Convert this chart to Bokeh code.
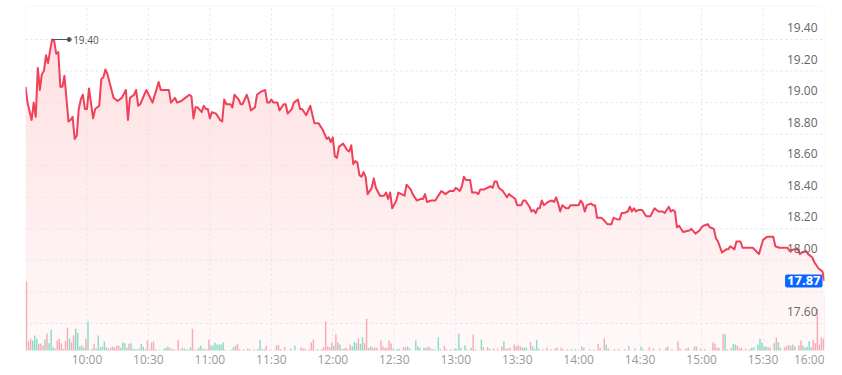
import numpy as np
from bokeh.plotting import figure
from bokeh.models import Range1d, BoxAnnotation, ColumnDataSource
from bokeh.core.properties import value
from bokeh.embed import file_html
from bokeh.resources import INLINE

# ---------------- data ----------------
# minutes since the 09:30 open
t_min = [0, 1, 3, 4, 5, 6, 7, 8, 9, 10, 11, 12, 13, 14, 15, 16, 17, 18, 19, 21, 22, 23, 24, 25, 26, 27, 28, 29, 30, 31,
         33, 34, 36, 37, 38, 39, 40, 43, 45, 47, 49, 50, 51, 53, 54, 55, 56, 59, 62, 65, 66, 70, 71, 73, 74, 76, 78, 80, 81, 82,
         83, 84, 86, 87, 88, 89, 90, 91, 93, 95, 96, 97, 98, 100, 101, 102, 104, 105, 106, 108, 109, 110, 112, 113, 115, 117, 118, 119, 120, 121,
         123, 124, 126, 127, 128, 130, 131, 133, 134, 135, 137, 139, 141, 143, 145, 147, 148, 149, 150, 151, 152, 153, 155, 157, 158, 159, 160, 161, 162, 163,
         164, 165, 166, 167, 169, 170, 171, 173, 175, 176, 177, 178, 179, 181, 182, 185, 186, 188, 189, 191, 193, 194, 195, 196, 198, 200, 202, 203, 205, 207,
         209, 210, 212, 213, 214, 215, 217, 218, 220, 221, 222, 224, 227, 228, 229, 230, 231, 233, 235, 236, 237, 238, 239, 240, 242, 243, 244, 246, 247, 248,
         249, 250, 251, 252, 253, 255, 257, 258, 259, 260, 261, 262, 264, 265, 266, 268, 270, 271, 272, 273, 274, 276, 277, 278, 279, 281, 282, 284, 285, 286,
         287, 289, 290, 291, 292, 294, 295, 296, 297, 298, 299, 300, 301, 303, 305, 307, 309, 311, 312, 314, 315, 316, 317, 318, 319, 321, 324, 325, 327, 329,
         330, 331, 333, 334, 336, 337, 338, 340, 342, 343, 344, 346, 347, 349, 350, 352, 355, 358, 360, 362, 363, 365, 366, 368, 369, 371, 372, 373, 375, 377,
         378, 379, 381, 382, 384, 385, 387, 388, 389, 390]
prices = [19.10, 19.00, 18.89, 19.00, 18.91, 19.22, 19.08, 19.18, 19.20, 19.30, 19.25, 19.33, 19.40, 19.39, 19.31, 19.32, 19.10, 19.10, 19.17, 18.88, 18.89, 18.91, 18.77, 18.79, 18.96, 19.02, 19.05, 18.96, 18.96, 19.09,
          18.90, 18.96, 18.98, 19.15, 19.16, 19.21, 19.18, 19.03, 19.01, 19.03, 19.08, 18.89, 19.03, 19.05, 19.08, 18.98, 18.99, 19.08, 19.00, 19.13, 19.08, 19.08, 19.00, 19.03, 19.00, 19.01, 19.03, 19.05, 19.04, 18.90,
          18.97, 18.97, 18.94, 18.98, 18.96, 18.96, 18.90, 18.94, 18.93, 18.89, 18.88, 19.02, 18.99, 18.99, 18.97, 19.05, 19.02, 18.99, 18.99, 19.05, 19.01, 18.95, 18.97, 19.05, 19.07, 19.08, 19.00, 19.00, 19.02, 19.00,
          19.00, 18.95, 18.99, 18.99, 18.93, 18.96, 19.00, 19.02, 18.96, 18.96, 18.92, 18.98, 18.87, 18.87, 18.83, 18.77, 18.78, 18.75, 18.78, 18.66, 18.65, 18.72, 18.74, 18.70, 18.69, 18.73, 18.61, 18.63, 18.62, 18.54,
          18.53, 18.56, 18.53, 18.42, 18.46, 18.52, 18.46, 18.41, 18.41, 18.43, 18.39, 18.43, 18.33, 18.38, 18.43, 18.41, 18.48, 18.45, 18.42, 18.38, 18.39, 18.39, 18.42, 18.37, 18.38, 18.38, 18.42, 18.44, 18.42, 18.44,
          18.44, 18.46, 18.44, 18.47, 18.53, 18.51, 18.51, 18.43, 18.43, 18.42, 18.45, 18.45, 18.47, 18.46, 18.50, 18.50, 18.46, 18.44, 18.40, 18.42, 18.41, 18.40, 18.39, 18.35, 18.35, 18.38, 18.38, 18.34, 18.31, 18.32,
          18.30, 18.33, 18.33, 18.38, 18.35, 18.37, 18.38, 18.37, 18.40, 18.36, 18.31, 18.35, 18.33, 18.33, 18.35, 18.35, 18.35, 18.38, 18.36, 18.31, 18.35, 18.36, 18.35, 18.35, 18.27, 18.27, 18.26, 18.23, 18.23, 18.23,
          18.27, 18.26, 18.26, 18.30, 18.30, 18.31, 18.34, 18.31, 18.33, 18.31, 18.32, 18.32, 18.32, 18.28, 18.28, 18.33, 18.31, 18.31, 18.30, 18.34, 18.31, 18.32, 18.31, 18.21, 18.22, 18.18, 18.19, 18.20, 18.17, 18.19,
          18.21, 18.22, 18.23, 18.21, 18.20, 18.14, 18.12, 18.05, 18.07, 18.07, 18.09, 18.07, 18.12, 18.12, 18.08, 18.08, 18.08, 18.04, 18.13, 18.15, 18.15, 18.15, 18.09, 18.08, 18.08, 18.08, 18.08, 18.06, 18.07, 18.07,
          18.04, 18.05, 18.06, 18.04, 18.02, 17.99, 17.95, 17.94, 17.93, 17.87]
last_price = 17.87

# per-minute volume (thousand shares) and direction (1 = up minute, 0 = down minute)
vol_min = [0, 1, 2, 3, 4, 5, 6, 7, 8, 9, 10, 11, 12, 13, 14, 15, 16, 17, 18, 19, 20, 21, 22, 23, 24, 25, 26, 27, 28, 29,
           30, 32, 33, 34, 35, 36, 37, 38, 39, 40, 41, 42, 43, 44, 45, 46, 47, 48, 49, 50, 51, 52, 53, 54, 55, 56, 57, 58, 59, 60,
           61, 62, 63, 65, 67, 68, 69, 70, 71, 72, 74, 75, 76, 77, 78, 79, 80, 81, 82, 83, 84, 85, 86, 87, 88, 89, 90, 91, 92, 93,
           94, 95, 96, 97, 100, 101, 102, 103, 104, 106, 108, 109, 111, 113, 114, 115, 116, 117, 119, 121, 122, 123, 124, 126, 129, 131, 134, 135, 136, 138,
           139, 140, 142, 144, 145, 146, 147, 148, 149, 150, 151, 152, 153, 154, 155, 156, 157, 158, 159, 160, 161, 162, 163, 164, 165, 166, 167, 168, 169, 170,
           171, 173, 174, 175, 176, 177, 178, 179, 181, 182, 184, 185, 186, 187, 190, 191, 192, 194, 195, 196, 197, 198, 199, 201, 202, 204, 205, 207, 209, 210,
           211, 212, 214, 215, 217, 218, 219, 222, 223, 225, 226, 228, 230, 232, 233, 234, 235, 236, 238, 239, 240, 241, 242, 243, 244, 246, 247, 248, 249, 250,
           252, 254, 256, 258, 259, 261, 262, 264, 266, 268, 271, 272, 275, 277, 279, 280, 282, 283, 284, 287, 289, 292, 294, 297, 300, 301, 304, 306, 309, 312,
           313, 315, 318, 319, 322, 323, 326, 327, 329, 331, 335, 336, 337, 338, 340, 341, 342, 344, 345, 346, 347, 348, 349, 351, 353, 354, 355, 357, 358, 359,
           360, 361, 362, 363, 365, 366, 367, 368, 370, 371, 372, 373, 374, 375, 377, 378, 379, 380, 381, 382, 383, 384, 385, 386, 387, 388, 389, 390]
vol_k = [207, 28, 35, 30, 45, 35, 20, 20, 15, 33, 50, 22, 62, 10, 5, 30, 35, 22, 5, 28, 68, 35, 25, 45, 65, 53, 12, 15, 8, 35,
         87, 5, 20, 5, 45, 10, 12, 27, 10, 5, 8, 12, 8, 14, 14, 8, 24, 22, 8, 20, 22, 5, 4, 4, 5, 20, 12, 4, 30, 2,
         24, 27, 4, 2, 5, 8, 12, 8, 4, 4, 32, 2, 8, 5, 4, 2, 10, 65, 4, 2, 8, 14, 5, 4, 4, 32, 15, 15, 24, 18,
         18, 18, 24, 2, 2, 10, 15, 20, 4, 4, 6, 4, 4, 5, 32, 4, 4, 14, 2, 2, 15, 17, 4, 10, 6, 14, 10, 6, 5, 4,
         24, 33, 4, 4, 10, 87, 12, 10, 25, 14, 48, 25, 18, 4, 6, 8, 4, 18, 12, 25, 22, 36, 20, 40, 22, 95, 8, 12, 8, 8,
         8, 30, 12, 8, 8, 30, 22, 5, 5, 5, 10, 10, 12, 6, 30, 12, 8, 8, 8, 12, 8, 4, 4, 40, 4, 14, 4, 4, 6, 4,
         50, 8, 15, 4, 8, 48, 4, 33, 10, 10, 6, 6, 6, 12, 28, 6, 6, 8, 18, 12, 15, 12, 8, 10, 8, 25, 12, 5, 32, 6,
         4, 8, 4, 6, 8, 8, 4, 4, 4, 4, 12, 8, 4, 4, 20, 8, 36, 18, 6, 4, 4, 4, 14, 6, 12, 4, 10, 6, 6, 8,
         12, 4, 27, 6, 6, 8, 12, 12, 6, 4, 24, 20, 8, 8, 50, 48, 4, 8, 20, 18, 14, 6, 8, 6, 4, 8, 10, 18, 35, 24,
         12, 12, 10, 8, 22, 40, 25, 8, 10, 14, 16, 14, 18, 12, 16, 30, 14, 8, 12, 28, 10, 32, 22, 125, 18, 40, 35, 159]
vol_up = [0, 0, 0, 1, 1, 1, 0, 0, 0, 1, 0, 1, 1, 1, 0, 0, 0, 0, 0, 0, 0, 1, 0, 0, 1, 1, 1, 1, 0, 0,
          1, 1, 0, 1, 1, 1, 1, 1, 1, 0, 0, 0, 0, 0, 0, 1, 1, 1, 0, 0, 1, 1, 1, 0, 1, 1, 1, 1, 0, 0,
          0, 0, 1, 1, 1, 1, 1, 0, 0, 0, 0, 0, 0, 1, 1, 1, 1, 0, 0, 0, 1, 1, 1, 1, 0, 0, 1, 1, 1, 1,
          1, 1, 1, 1, 1, 1, 0, 0, 0, 0, 1, 0, 0, 1, 1, 1, 0, 0, 0, 0, 0, 0, 0, 0, 1, 1, 0, 0, 0, 0,
          0, 0, 1, 0, 0, 0, 0, 0, 0, 1, 0, 0, 1, 1, 0, 0, 0, 0, 1, 1, 1, 0, 1, 1, 0, 0, 0, 1, 0, 0,
          0, 0, 0, 0, 0, 0, 0, 1, 1, 1, 0, 0, 1, 1, 1, 1, 1, 1, 1, 0, 0, 1, 1, 1, 1, 0, 0, 0, 1, 1,
          1, 1, 1, 0, 1, 0, 0, 1, 0, 0, 1, 0, 0, 0, 1, 0, 0, 0, 0, 0, 0, 0, 1, 1, 1, 0, 1, 1, 1, 1,
          0, 0, 0, 0, 0, 0, 0, 0, 1, 0, 1, 0, 0, 0, 0, 0, 0, 1, 0, 0, 0, 0, 1, 0, 1, 0, 0, 0, 0, 0,
          1, 0, 0, 0, 0, 0, 0, 1, 0, 0, 0, 0, 0, 0, 0, 1, 0, 0, 1, 1, 0, 0, 0, 0, 0, 1, 1, 1, 1, 1,
          1, 1, 0, 0, 1, 0, 1, 1, 0, 0, 0, 1, 0, 1, 0, 0, 1, 1, 1, 1, 0, 0, 0, 0, 0, 0, 0, 0]

y_tick_labels = ["19.40", "19.20", "19.00", "18.80", "18.60", "18.40", "18.20", "18.00", "17.80", "17.60"]
x_tick_labels = ["10:00", "10:30", "11:00", "11:30", "12:00", "12:30", "13:00", "13:30",
                 "14:00", "14:30", "15:00", "15:30", "16:00"]
session_open, session_close = "09:30", "16:00"

# ---------------- layout / style ----------------
RED = "#f0405a"
PINK_BAR = "#f7a7ae"
TEAL_BAR = "#86d9c4"
GRID = "#e3e3e6"
FONT = value("Open Sans")


def to_min(s):
    h, m = s.split(":")
    return int(h) * 60 + int(m) - (int(session_open[:2]) * 60 + int(session_open[3:]))


x0, x1 = to_min(session_open), to_min(session_close)

# vertical layout in pixels (page coordinates)
FRAME_H = 372           # frame covers page y 0..372
PX_PER_PRICE = 157.8    # 0.20 per ~31.6 px
REF_PRICE, REF_PX = 19.40, 39.0
BOX_TOP_PX, BOX_BOT_PX = 5.5, 350.0


def px_to_price(py):
    return REF_PRICE - (py - REF_PX) / PX_PER_PRICE


Y_TOP, Y_BOT = px_to_price(0), px_to_price(FRAME_H)
BOX_TOP, BOX_BOT = px_to_price(BOX_TOP_PX), px_to_price(BOX_BOT_PX)
px_per_min = 799 / (x1 - x0)

t = np.array(t_min, dtype=float)
pr = np.array(prices)

p = figure(width=840, height=FRAME_H, output_backend="svg", toolbar_location=None,
           x_range=Range1d(x0, x1), y_range=Range1d(Y_BOT, Y_TOP),
           x_axis_location=None, y_axis_location=None,
           min_border_left=25, min_border_right=16, min_border_top=0, min_border_bottom=0)
p.outline_line_color = None
p.grid.visible = False
p.background_fill_color = "white"
p.border_fill_color = "white"

# volume scale: the biggest bar is ~69px tall, base on the panel bottom
vmax = max(vol_k)
vol_per_px = vmax / 69.0
base_px = FRAME_H - BOX_BOT_PX
p.extra_y_ranges = {"vol": Range1d(-base_px * vol_per_px, (FRAME_H - base_px) * vol_per_px)}

# gradient area fill under the line
p.varea(x=t, y1=BOX_BOT, y2=pr, fill_color=RED, fill_alpha=0.03)
levels = np.linspace(BOX_BOT, pr.max(), 25)[:-1]
for lv in levels:
    p.varea(x=t, y1=lv, y2=np.maximum(pr, lv), fill_color=RED, fill_alpha=0.0052)

# grid lines (dotted)
ytick_vals = [float(s) for s in y_tick_labels]
p.segment(x0=[x0] * len(ytick_vals), x1=[x1] * len(ytick_vals), y0=ytick_vals, y1=ytick_vals,
          line_color=GRID, line_width=1, line_dash="2 3")
xt = [to_min(s) for s in x_tick_labels]
xg = [v for v in xt if x0 < v < x1]
p.segment(x0=xg, x1=xg, y0=[BOX_BOT] * len(xg), y1=[BOX_TOP] * len(xg),
          line_color=GRID, line_width=1, line_dash="2 3")

# volume bars
vsrc = ColumnDataSource(dict(x=np.array(vol_min) + 0.5, top=vol_k,
                             color=[TEAL_BAR if u else PINK_BAR for u in vol_up]))
p.vbar(x="x", top="top", bottom=0, width=0.7, color="color", fill_alpha=0.95, line_alpha=0,
       source=vsrc, y_range_name="vol")

# price line
p.line(t, pr, line_color=RED, line_width=2, line_join="round")

# panel border
p.add_layout(BoxAnnotation(left=x0, right=x1, top=BOX_TOP, bottom=BOX_BOT, fill_alpha=0,
                           line_color="#e2e2e8", line_width=1, border_radius=6))

# y labels (inside, right)
p.text(x=[x1] * len(ytick_vals), y=ytick_vals, text=y_tick_labels, x_offset=-7, y_offset=-12,
       text_align="right", text_baseline="middle", text_color="#666666",
       text_font=FONT, text_font_size="12px")

# x labels (below the panel)
p.text(x=xt[:-1], y=[BOX_BOT] * (len(xt) - 1), text=x_tick_labels[:-1], y_offset=9,
       text_align="center", text_baseline="middle", text_color="#9a9a9a",
       text_font=FONT, text_font_size="12px")
p.text(x=[xt[-1]], y=[BOX_BOT], text=[x_tick_labels[-1]], y_offset=9,
       text_align="right", text_baseline="middle", text_color="#9a9a9a",
       text_font=FONT, text_font_size="12px")

# high marker
i_hi = int(np.argmax(pr))
hx, hp = t[i_hi], pr[i_hi]
hx2 = hx + 17 / px_per_min
p.segment(x0=[hx], x1=[hx2], y0=[hp], y1=[hp], line_color="#555555", line_width=1)
p.scatter(x=[hx2], y=[hp], size=4, color="#555555")
p.text(x=[hx2], y=[hp], text=[f"{hp:.2f}"], x_offset=4, text_align="left", text_baseline="middle",
       text_color="#555555", text_font=FONT, text_font_size="10px")

# last price badge
p.text(x=[x1], y=[last_price], text=[f"{last_price:.2f}"], x_offset=-2,
       text_align="right", text_baseline="middle", text_color="white",
       text_font=FONT, text_font_size="13px", text_font_style="bold",
       background_fill_color="#0a66ff", padding=2, border_radius=2)

open("out.html", "w").write(file_html(p, INLINE))
